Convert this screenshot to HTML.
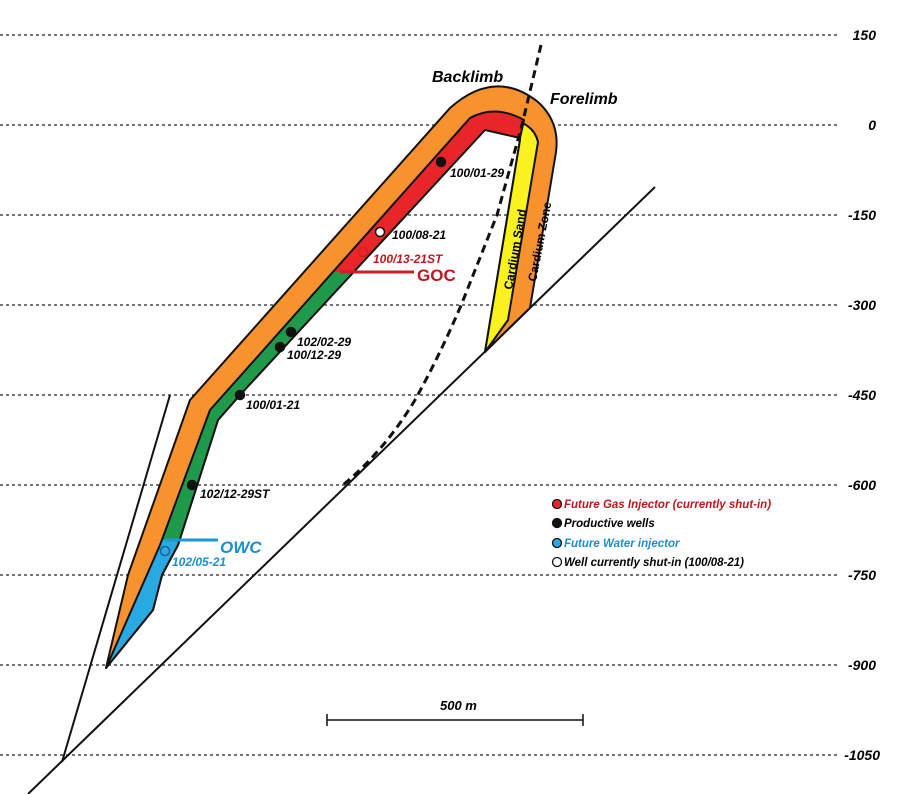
<!DOCTYPE html>
<html><head><meta charset="utf-8"><style>
html,body{margin:0;padding:0;background:#fff;}
svg{display:block;}
text{font-family:"Liberation Sans",sans-serif;font-weight:bold;font-style:italic;}
</style></head><body>
<svg width="898" height="794" viewBox="0 0 898 794" xmlns="http://www.w3.org/2000/svg">
<defs>
<clipPath id="cRed"><rect x="0" y="0" width="898" height="272"/></clipPath>
<clipPath id="cGreen"><rect x="0" y="272" width="898" height="268"/></clipPath>
<clipPath id="cBlue"><rect x="0" y="540" width="898" height="254"/></clipPath>
</defs>
<g stroke="#222" stroke-width="1.3" stroke-dasharray="3,3">
<line x1="0" y1="35" x2="838" y2="35"/><line x1="0" y1="125" x2="838" y2="125"/>
<line x1="0" y1="215" x2="838" y2="215"/><line x1="0" y1="305" x2="838" y2="305"/>
<line x1="0" y1="395" x2="838" y2="395"/><line x1="0" y1="485" x2="838" y2="485"/>
<line x1="0" y1="575" x2="838" y2="575"/><line x1="0" y1="665" x2="838" y2="665"/>
<line x1="0" y1="755" x2="838" y2="755"/>
</g>
<g font-size="14" text-anchor="end">
<text x="876" y="40">150</text><text x="876" y="130">0</text><text x="876" y="220">-150</text>
<text x="876" y="310">-300</text><text x="876" y="400">-450</text><text x="876" y="490">-600</text>
<text x="876" y="580">-750</text><text x="876" y="670">-900</text><text x="880" y="760">-1050</text>
</g>
<path d="M106,668 L128,575 L190,400 L450,108 Q495,68 538,102 Q560,122 556,152 L530,308 L485,352 L520,140 Q515,125 505,122 L490,122 L240,395 L218,420 L178,545 L162,575 L153,610 Z" fill="#f7922e" stroke="#111" stroke-width="2" stroke-linejoin="round"/>
<path d="M520,122 Q535,128 538,142 L508,320 L485,352 L520,140 Z" fill="#f9f21f" stroke="#111" stroke-width="2" stroke-linejoin="round"/>
<g stroke="#111" stroke-width="2" stroke-linejoin="round">
<path d="M106,668 L160,545 L210,410 L470,118 Q495,104 524,120 L520,138 L485,130 L240,395 L218,420 L178,545 L162,575 L153,610 Z" fill="#e8262a" clip-path="url(#cRed)"/>
<path d="M106,668 L160,545 L210,410 L470,118 Q495,104 524,120 L520,138 L485,130 L240,395 L218,420 L178,545 L162,575 L153,610 Z" fill="#1f9a4a" clip-path="url(#cGreen)"/>
<path d="M106,668 L160,545 L210,410 L470,118 Q495,104 524,120 L520,138 L485,130 L240,395 L218,420 L178,545 L162,575 L153,610 Z" fill="#29a9e1" clip-path="url(#cBlue)"/>
</g>
<g stroke="#111" stroke-width="2" fill="none">
<line x1="28" y1="794" x2="655" y2="187"/>
<line x1="62" y1="762" x2="170" y2="395"/>
<path d="M541,45 L522,125 L497,215 L462,303 Q440,355 415,400 Q385,450 343,485" stroke-width="3" stroke-dasharray="8,5"/>
</g>
<line x1="340" y1="272" x2="414" y2="272" stroke="#d21f25" stroke-width="3"/>
<line x1="165" y1="540" x2="218" y2="540" stroke="#1a9ad6" stroke-width="3"/>
<g stroke="#111" stroke-width="1.5">
<circle cx="441" cy="162" r="4.5" fill="#111"/>
<circle cx="380" cy="232" r="4.5" fill="#fff"/>
<circle cx="363" cy="252" r="4.5" fill="none" stroke="#d21f25"/>
<circle cx="291" cy="332" r="4.5" fill="#111"/>
<circle cx="280" cy="347" r="4.5" fill="#111"/>
<circle cx="240" cy="395" r="4.5" fill="#111"/>
<circle cx="192" cy="485" r="4.5" fill="#111"/>
<circle cx="165" cy="551" r="4.5" fill="none" stroke="#1a5fa0"/>
</g>
<g font-size="12">
<text x="450" y="177">100/01-29</text>
<text x="392" y="239">100/08-21</text>
<text x="373" y="263" fill="#c0181e">100/13-21ST</text>
<text x="297" y="346">102/02-29</text>
<text x="287" y="359">100/12-29</text>
<text x="246" y="409">100/01-21</text>
<text x="200" y="498">102/12-29ST</text>
<text x="172" y="566" fill="#1a8fcf">102/05-21</text>
</g>
<text x="417" y="281" font-size="17" fill="#c0181e" style="font-style:normal">GOC</text>
<text x="220" y="553" font-size="17" fill="#1a8fcf">OWC</text>
<text x="432" y="82" font-size="16">Backlimb</text>
<text x="550" y="104" font-size="16">Forelimb</text>
<text transform="translate(512,290) rotate(-80)" font-size="12" style="font-style:normal">Cardium Sand</text>
<text transform="translate(536,282) rotate(-79)" font-size="12" style="font-style:normal">Cardium Zone</text>
<g stroke="#111" stroke-width="1.3">
<circle cx="557" cy="504" r="4.5" fill="#e8262a"/>
<circle cx="557" cy="523" r="4.5" fill="#111"/>
<circle cx="557" cy="543" r="4.5" fill="#29a9e1"/>
<circle cx="557" cy="562" r="4.5" fill="#fff"/>
</g>
<g font-size="11.5">
<text x="564" y="508" fill="#c0181e">Future Gas Injector (currently shut-in)</text>
<text x="564" y="527">Productive wells</text>
<text x="564" y="547" fill="#1a8fcf">Future Water injector</text>
<text x="564" y="566">Well currently shut-in (100/08-21)</text>
</g>
<text x="440" y="710" font-size="13">500 m</text>
<g stroke="#111" stroke-width="1.5">
<line x1="327" y1="720" x2="583" y2="720"/>
<line x1="327" y1="714" x2="327" y2="726"/>
<line x1="583" y1="714" x2="583" y2="726"/>
</g>
</svg>
</body></html>
